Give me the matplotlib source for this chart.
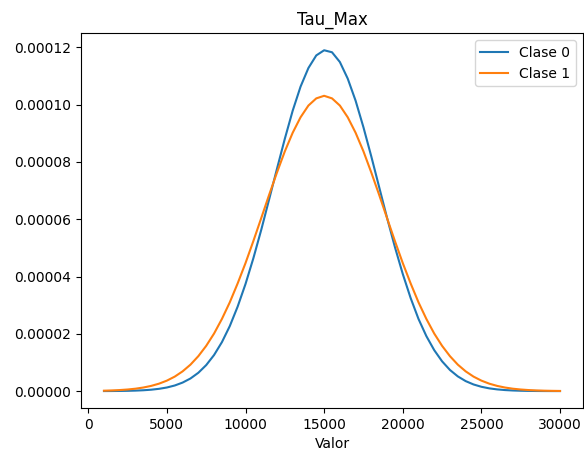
import matplotlib.pyplot as plt

# eje x: cada 500 entre 1000 y 30000
valores = list(range(1000, 30001, 500))

# densidades (x 1e-6)
clase0 = [0.017, 0.031, 0.057, 0.101, 0.175, 0.296, 0.49, 0.80, 1.26, 1.96,
          2.98, 4.41, 6.40, 9.08, 12.6, 17.1, 22.7, 29.5, 37.4, 46.4,
          56.3, 66.9, 77.6, 88.1, 97.9, 106.3, 112.8, 117.2, 119.0, 118.3,
          114.9, 109.1, 101.4, 92.1, 81.9, 71.2, 60.5, 50.3, 40.9, 32.5,
          25.2, 19.2, 14.3, 10.4, 7.38, 5.14, 3.49, 2.32, 1.51, 0.96,
          0.60, 0.364, 0.217, 0.126, 0.072, 0.040, 0.022, 0.012, 0.006]
clase0 = [v * 1e-6 for v in clase0]

clase1 = [0.148, 0.235, 0.366, 0.56, 0.84, 1.25, 1.82, 2.60, 3.66, 5.06,
          6.90, 9.24, 12.2, 15.8, 20.1, 25.2, 31.0, 37.6, 44.7, 52.4,
          60.4, 68.5, 76.3, 83.7, 90.2, 95.6, 99.7, 102.2, 103.1, 102.2,
          99.7, 95.6, 90.2, 83.7, 76.3, 68.5, 60.4, 52.4, 44.7, 37.6,
          31.0, 25.2, 20.1, 15.8, 12.2, 9.24, 6.90, 5.06, 3.66, 2.60,
          1.82, 1.25, 0.84, 0.56, 0.366, 0.235, 0.148, 0.092, 0.056]
clase1 = [v * 1e-6 for v in clase1]

fig = plt.figure(figsize=(5.84, 4.55), dpi=100)
ax = fig.add_axes([0.139, 0.103, 0.859, 0.824])
ax.plot(valores, clase0, label="Clase 0")
ax.plot(valores, clase1, label="Clase 1")
ax.set_title("Tau_Max")
ax.set_xlabel("Valor")
ax.legend()

fig.savefig("out.png")
